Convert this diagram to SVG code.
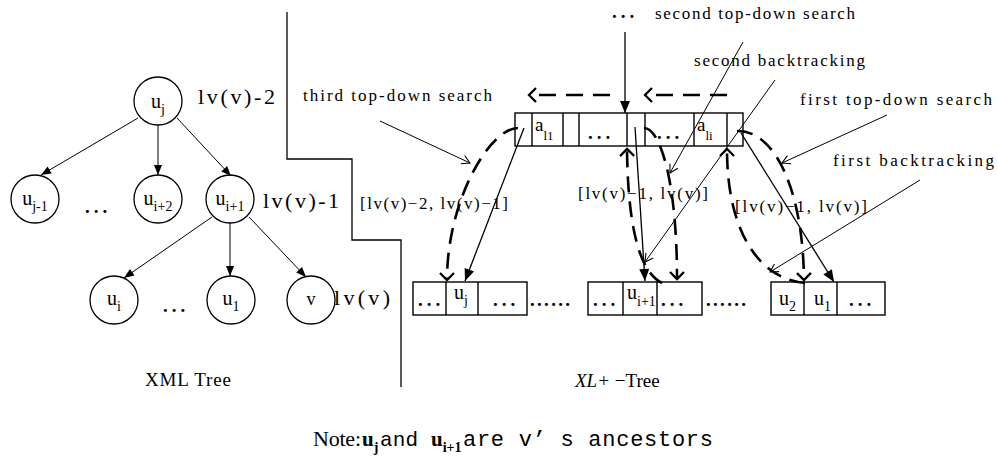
<svg xmlns="http://www.w3.org/2000/svg" width="998" height="461" viewBox="0 0 998 461">
<defs>
<style>
.c{fill:#fff;stroke:#000;stroke-width:1.3}
.box{fill:#fff;stroke:#000;stroke-width:1.4}
.ln{stroke:#000;stroke-width:1;fill:none}
.pt{stroke:#000;stroke-width:1.3;fill:none}
.dash{stroke:#000;stroke-width:2.6;fill:none;stroke-dasharray:16 9}
.mono{font-family:"Liberation Serif",serif;fill:#000}
.cour{font-family:"Liberation Mono",monospace;fill:#000}
.serif{font-family:"Liberation Serif",serif;fill:#000}
.dots{font-family:"Liberation Serif",serif;font-weight:bold;font-size:19px;letter-spacing:4px}
</style>
<marker id="fa" markerUnits="userSpaceOnUse" viewBox="-12 -6 14 12" markerWidth="14" markerHeight="12" refX="0" refY="0" orient="auto"><path d="M-10,-4 L0,0 L-10,4 Z" fill="#000"/></marker>
<marker id="fb" markerUnits="userSpaceOnUse" viewBox="-14 -7 16 14" markerWidth="16" markerHeight="14" refX="0" refY="0" orient="auto"><path d="M-12,-5 L0,0 L-12,5 Z" fill="#000"/></marker>
<marker id="oa" markerUnits="userSpaceOnUse" viewBox="-10 -9 12 18" markerWidth="12" markerHeight="18" refX="0" refY="0" orient="auto"><path d="M-7,-7 L0,0 L-7,7" fill="none" stroke="#000" stroke-width="2.3"/></marker>
<marker id="sa" markerUnits="userSpaceOnUse" viewBox="-10 -6 12 12" markerWidth="12" markerHeight="12" refX="0" refY="0" orient="auto"><path d="M-8,-4.5 L0,0 L-8,4.5" fill="none" stroke="#000" stroke-width="1.1"/></marker>
</defs>
<rect width="998" height="461" fill="#fff"/>

<!-- partition line -->
<path d="M287,12 V159 H352 V240 H401 V387" fill="none" stroke="#000" stroke-width="1.3"/>

<!-- XML tree nodes -->
<g id="n-uj"><circle class="c" cx="158" cy="101" r="24"/><text class="serif" x="158" y="108" font-size="20" text-anchor="middle">u<tspan font-size="14" dy="6">j</tspan></text></g>
<g id="n-uj-1"><circle class="c" cx="35" cy="199" r="24"/><text class="serif" x="35" y="205" font-size="20" text-anchor="middle">u<tspan font-size="14" dy="6">j-1</tspan></text></g>
<g id="n-ui+2"><circle class="c" cx="158" cy="199" r="24"/><text class="serif" x="158" y="205" font-size="20" text-anchor="middle">u<tspan font-size="14" dy="6">i+2</tspan></text></g>
<g id="n-ui+1"><circle class="c" cx="230" cy="199" r="24"/><text class="serif" x="230" y="205" font-size="20" text-anchor="middle">u<tspan font-size="14" dy="6">i+1</tspan></text></g>
<g id="n-ui"><circle class="c" cx="114" cy="300" r="24"/><text class="serif" x="114" y="305" font-size="20" text-anchor="middle">u<tspan font-size="14" dy="6">i</tspan></text></g>
<g id="n-u1"><circle class="c" cx="231" cy="300" r="24"/><text class="serif" x="231" y="305" font-size="20" text-anchor="middle">u<tspan font-size="14" dy="6">1</tspan></text></g>
<g id="n-v"><circle class="c" cx="311" cy="300" r="24"/><text class="serif" x="311" y="305" font-size="18" text-anchor="middle">v</text></g>
<g id="tree-dots">
<text class="dots" x="85" y="213">...</text>
<text class="dots" x="163" y="312">...</text>
</g>
<g id="level-labels">
<text class="mono" x="198" y="104" font-size="22" textLength="77" lengthAdjust="spacing">lv(v)-2</text>
<text class="mono" x="263" y="208" font-size="22" textLength="76" lengthAdjust="spacing">lv(v)-1</text>
<text class="mono" x="334" y="305" font-size="22" textLength="56" lengthAdjust="spacing">lv(v)</text>
</g>
<text id="t-xml" class="mono" x="145" y="386" font-size="19" textLength="86" lengthAdjust="spacing">XML Tree</text>

<!-- top array -->
<g id="n-top-array">
<rect class="box" x="515" y="113" width="228" height="33"/>
<path d="M532,113V146M563,113V146M579,113V146M627,113V146M645,113V146M694,113V146M727,113V146" stroke="#000" stroke-width="1.4"/>
<text class="serif" x="535" y="131" font-size="19">a<tspan font-size="13" dy="9">l1</tspan></text>
<text class="dots" x="588" y="139">...</text>
<text class="dots" x="657" y="139">...</text>
<text class="serif" x="697" y="131" font-size="19">a<tspan font-size="13" dy="9">li</tspan></text>
</g>

<!-- bottom arrays -->
<g id="n-array1">
<rect class="box" x="413" y="282" width="114" height="33"/>
<path d="M446,282V315M478,282V315" stroke="#000" stroke-width="1.4"/>
<text class="dots" x="418" y="306">...</text>
<text class="serif" x="454" y="299" font-size="20">u<tspan font-size="14" dy="6">j</tspan></text>
<text class="dots" x="493" y="306">...</text>
</g>
<text class="dots" x="530" y="306" style="letter-spacing:2.3px">......</text>
<g id="n-array2">
<rect class="box" x="588" y="282" width="114" height="33"/>
<path d="M623,282V315M657,282V315" stroke="#000" stroke-width="1.4"/>
<text class="dots" x="593" y="306">...</text>
<text class="serif" x="627" y="299" font-size="20">u<tspan font-size="14" dy="7">i+1</tspan></text>
<text class="dots" x="661" y="306">...</text>
</g>
<text class="dots" x="706" y="306" style="letter-spacing:2.3px">......</text>
<g id="n-array3">
<rect class="box" x="771" y="282" width="114" height="33"/>
<path d="M804,282V315M837,282V315" stroke="#000" stroke-width="1.4"/>
<text class="serif" x="779" y="305" font-size="20">u<tspan font-size="14" dy="6">2</tspan></text>
<text class="serif" x="814" y="305" font-size="20">u<tspan font-size="14" dy="6">1</tspan></text>
<text class="dots" x="849" y="306">...</text>
</g>

<!-- labels -->
<g id="labels">
<text class="dots" x="612" y="18">...</text>
<text class="mono" x="655" y="19" font-size="17" textLength="200" lengthAdjust="spacing">second top-down search</text>
<text class="mono" x="694" y="66" font-size="17" textLength="171" lengthAdjust="spacing">second backtracking</text>
<text class="mono" x="800" y="105" font-size="17" textLength="192" lengthAdjust="spacing">first top-down search</text>
<text class="mono" x="833" y="166" font-size="17" textLength="161" lengthAdjust="spacing">first backtracking</text>
<text class="mono" x="303" y="101" font-size="17" textLength="189" lengthAdjust="spacing">third top-down search</text>
<text class="serif" x="360" y="209" font-size="17" textLength="148" lengthAdjust="spacing">[lv(v)−2, lv(v)−1]</text>
<text class="serif" x="578" y="199" font-size="17" textLength="130" lengthAdjust="spacing">[lv(v)−1, lv(v)]</text>
<text class="serif" x="735" y="212" font-size="17" textLength="132" lengthAdjust="spacing">[lv(v)−1, lv(v)]</text>
<text class="serif" x="575" y="387" font-size="19"><tspan font-style="italic">XL+</tspan> −Tree</text>
<g id="note">
<text class="serif" x="313" y="446" font-size="22" textLength="48" lengthAdjust="spacing">Note:</text>
<text class="serif" x="362" y="446" font-size="21" font-weight="bold">u<tspan font-size="14" dy="6">j</tspan></text>
<text class="cour" x="380" y="446" font-size="21" textLength="38" lengthAdjust="spacing">and</text>
<text class="serif" x="431" y="446" font-size="21" font-weight="bold">u<tspan font-size="14" dy="6">i+1</tspan></text>
<text class="cour" x="463" y="446" font-size="22" textLength="250" lengthAdjust="spacing">are v’ s ancestors</text>
</g>
</g>

<!-- connectors -->
<g id="connectors">
<path class="ln" d="M138,118 L41,175" marker-end="url(#fa)"/>
<path class="ln" d="M158,125 L158,175" marker-end="url(#fa)"/>
<path class="ln" d="M177,118 L231,176" marker-end="url(#fa)"/>
<path class="ln" d="M212,217 L124,278" marker-end="url(#fa)"/>
<path class="ln" d="M230,223 L230,276" marker-end="url(#fa)"/>
<path class="ln" d="M249,217 L306,277" marker-end="url(#fa)"/>

<path class="dash" d="M610,95 H529" style="stroke-dasharray:17 10" marker-end="url(#oa)"/>
<path class="dash" d="M727,95 H645" style="stroke-dasharray:17 10" marker-end="url(#oa)"/>
<path class="pt" d="M625,32 V113" marker-end="url(#fb)"/>

<path class="dash" d="M518,128 C490,128 447,200 447,280" marker-end="url(#oa)"/>
<path class="dash" d="M644,128 C660,128 677,180 677,279" marker-end="url(#oa)"/>
<path class="dash" d="M737,131 C775,130 803,190 804,280" marker-end="url(#oa)"/>
<path class="dash" d="M662,283 C640,272 628,230 627,149" marker-end="url(#oa)"/>
<path class="dash" d="M805,283 C765,280 727,240 727,149" marker-end="url(#oa)"/>

<path class="pt" d="M524,128 L465,281" marker-end="url(#fb)"/>
<path class="pt" d="M635,127 L645,281" marker-end="url(#fb)"/>
<path class="pt" d="M741,133 L834,282" marker-end="url(#fb)"/>

<path class="ln" d="M380,121 L470,163" marker-end="url(#sa)"/>
<path class="ln" d="M743,42 L670,173" marker-end="url(#sa)"/>
<path class="ln" d="M775,80 L645,262" marker-end="url(#sa)"/>
<path class="ln" d="M887,115 L782,163" marker-end="url(#sa)"/>
<path class="ln" d="M920,180 L770,272" marker-end="url(#sa)"/>
</g>
</svg>
